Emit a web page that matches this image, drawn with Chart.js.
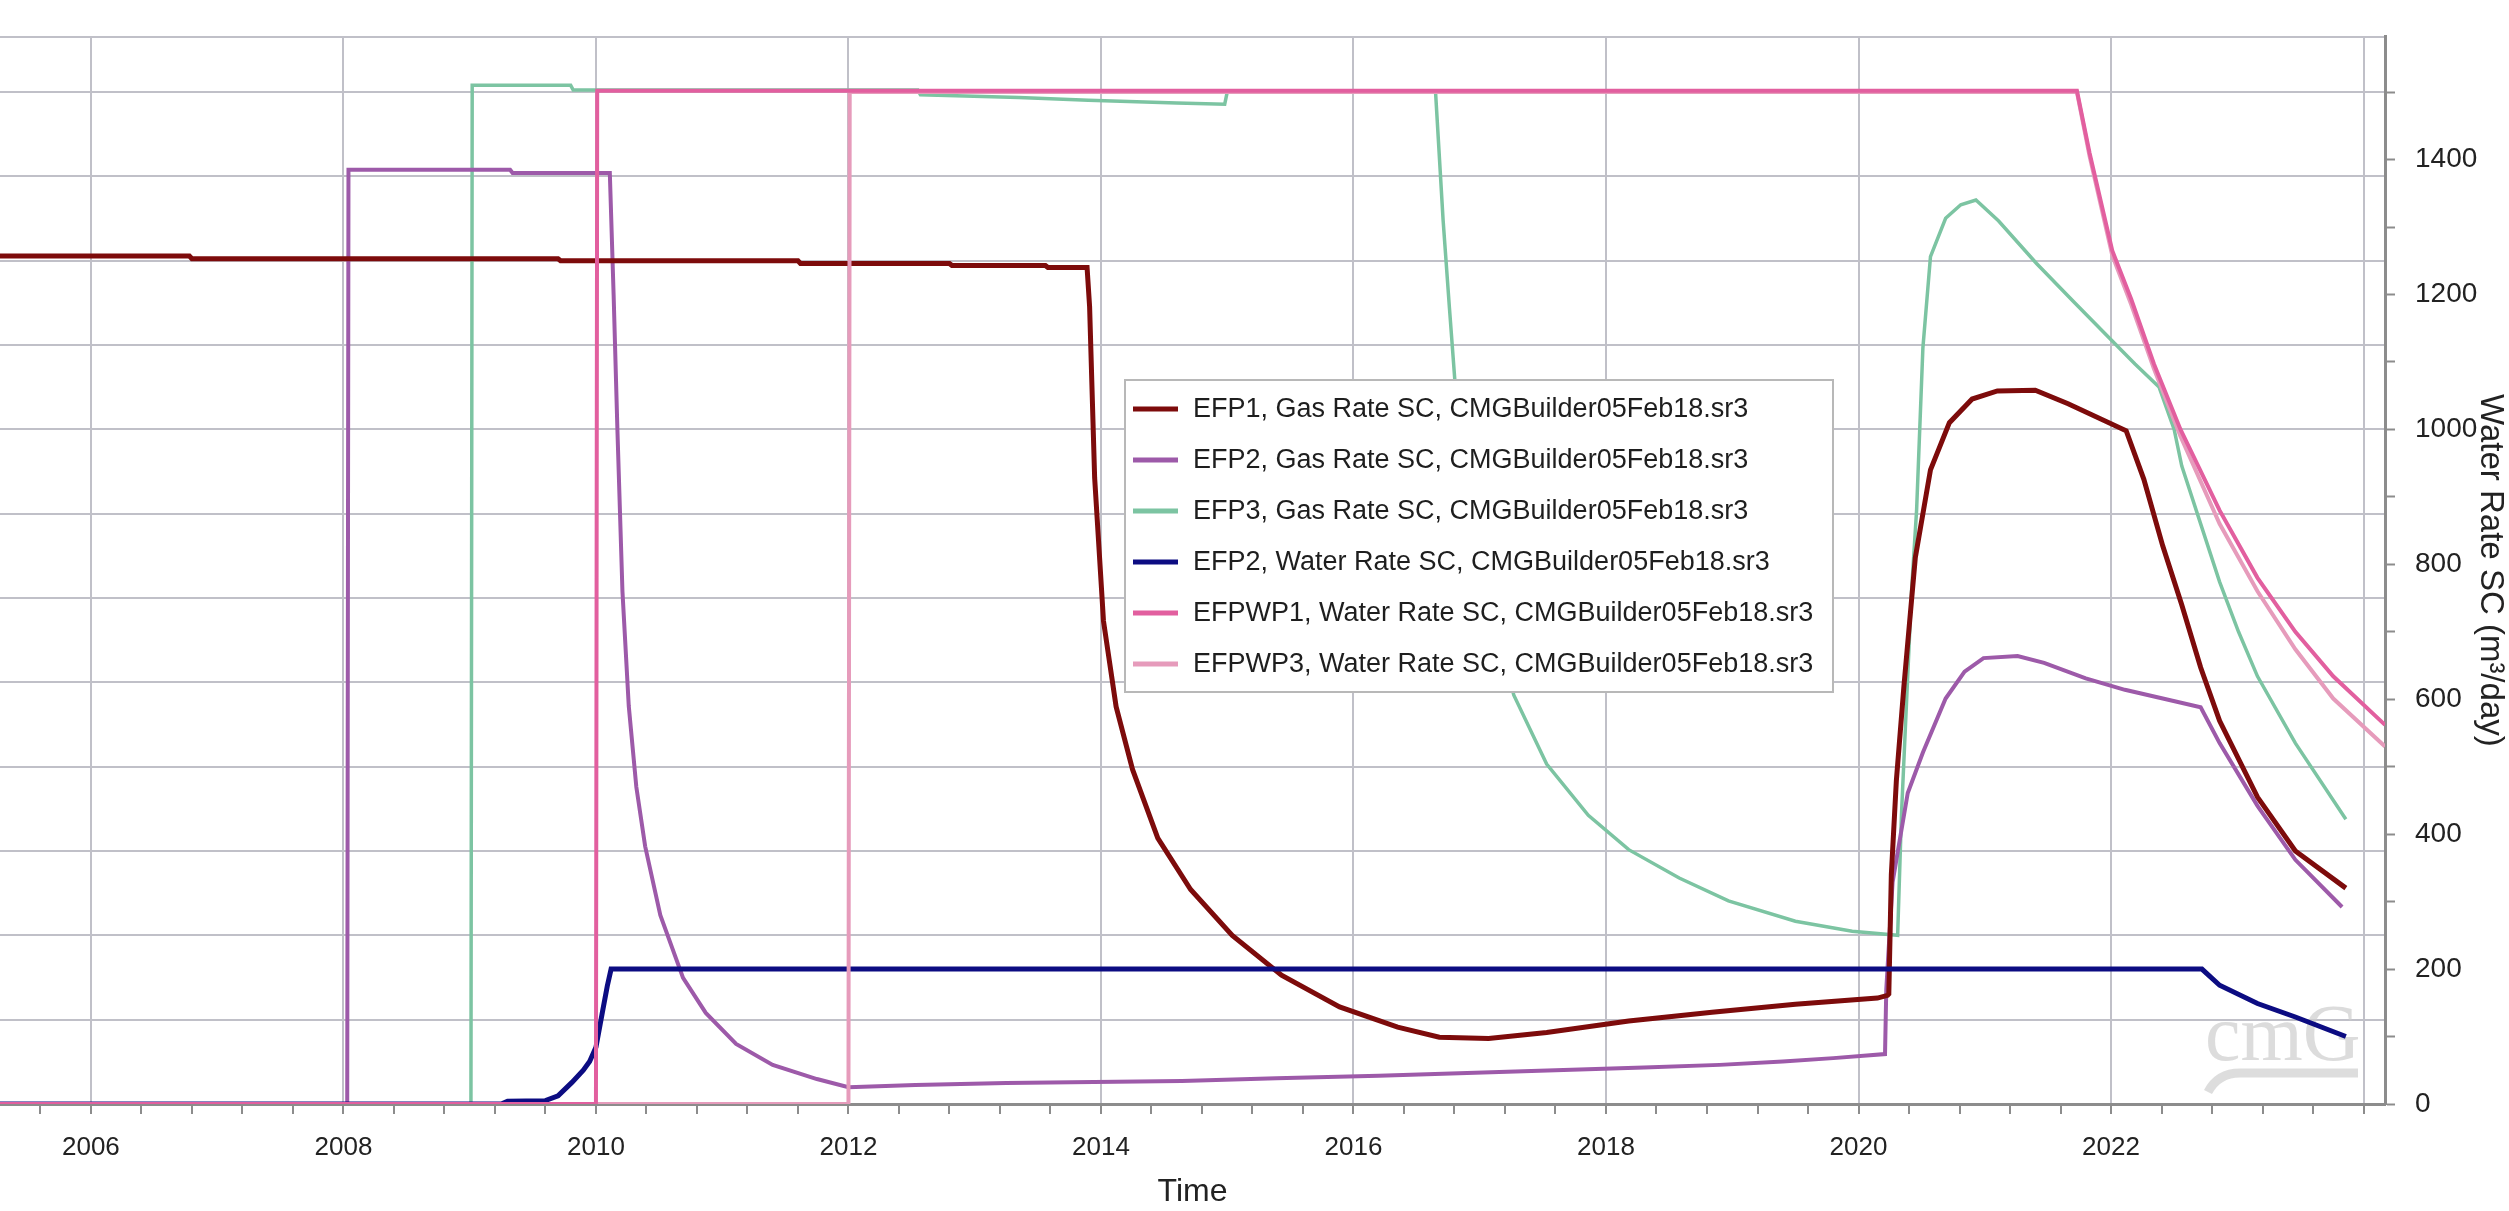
<!DOCTYPE html>
<html lang="en">
<head>
<meta charset="UTF-8" />
<title>Gas and Water Rates</title>
<style>
  html, body { margin: 0; padding: 0; background: #ffffff; }
  #wrap { width: 2509px; height: 1211px; }
</style>
<script src="https://cdn.jsdelivr.net/npm/chart.js"></script>
</head>
<body>
<div id="wrap"><canvas id="rateChart" width="2509" height="1211"></canvas></div>
<script>
  // axis range (decimal years / m3 per day)
  const xMin = 2005.28;
  const xMax = 2024.17;
  const yMax = 1582;

  // EFP1 gas rate
  const efp1Years = [2005.28, 2006.78, 2006.80, 2009.70, 2009.72, 2011.60, 2011.62, 2012.80, 2012.82, 2013.56, 2013.58, 2013.89,
    2013.91, 2013.95, 2014.02, 2014.12, 2014.25, 2014.45, 2014.71, 2015.04, 2015.43, 2015.89, 2016.35, 2016.68, 2017.07,
    2017.53, 2018.18, 2018.84, 2019.50, 2020.15, 2020.23, 2020.24, 2020.26, 2020.30, 2020.36, 2020.45, 2020.57, 2020.72,
    2020.90, 2021.10, 2021.40, 2021.66, 2022.12, 2022.26, 2022.41, 2022.56, 2022.71, 2022.86, 2023.16, 2023.46, 2023.86];
  const efp1Gas = [1257, 1257, 1253, 1253, 1250, 1250, 1246, 1246, 1243, 1243, 1240, 1240,
    1182, 928, 716, 589, 496, 394, 318, 250, 191, 144, 114, 99, 97,
    106, 123, 136, 148, 157, 161, 163, 340, 480, 620, 810, 940, 1010,
    1045, 1057, 1058, 1038, 998, 926, 827, 740, 647, 568, 455, 375, 320];

  // EFP2 gas rate
  const efp2Years = [2005.28, 2008.03, 2008.04, 2009.32, 2009.34, 2010.11, 2010.14, 2010.17, 2010.21, 2010.26, 2010.32,
    2010.39, 2010.51, 2010.69, 2010.87, 2011.11, 2011.40, 2011.75, 2012.00, 2012.53, 2013.25, 2014.64, 2015.39, 2016.20,
    2016.90, 2017.60, 2018.30, 2018.90, 2019.40, 2019.80, 2020.21, 2020.22, 2020.27, 2020.39, 2020.51, 2020.69, 2020.84,
    2020.99, 2021.26, 2021.47, 2021.80, 2022.11, 2022.41, 2022.71, 2022.86, 2023.16, 2023.46, 2023.83];
  const efp2Gas = [0, 0, 1385, 1385, 1380, 1380, 1200, 1000, 760, 590, 470,
    382, 280, 187, 135, 89, 58, 37, 25, 28, 31, 34, 38, 42,
    46, 50, 54, 58, 63, 68, 74, 170, 329, 461, 521, 601, 641,
    661, 664, 654, 631, 614, 601, 588, 535, 442, 362, 292];

  // EFP3 gas rate
  const efp3Years = [2005.28, 2009.01, 2009.02, 2009.80, 2009.82, 2012.55, 2012.57, 2013.35, 2013.90, 2014.60, 2014.98,
    2015.00, 2016.65, 2016.71, 2016.76, 2016.81, 2016.92, 2017.05, 2017.27, 2017.53, 2017.86, 2018.18, 2018.58, 2018.97,
    2019.50, 2019.95, 2020.31, 2020.34, 2020.42, 2020.46, 2020.51, 2020.57, 2020.69, 2020.81, 2020.93, 2021.11, 2021.41,
    2021.71, 2022.01, 2022.19, 2022.38, 2022.50, 2022.56, 2022.71, 2022.86, 2023.01, 2023.16, 2023.46, 2023.86];
  const efp3Gas = [0, 0, 1510, 1510, 1503, 1503, 1496, 1492, 1488, 1484, 1482,
    1500, 1500, 1310, 1180, 1055, 900, 760, 606, 504, 428, 377, 335, 301,
    271, 256, 250, 428, 760, 880, 1121, 1256, 1313, 1333, 1340, 1309, 1246,
    1188, 1131, 1097, 1063, 1000, 946, 860, 774, 700, 634, 535, 422];

  // EFP2 water rate
  const efp2WaterYears = [2005.28, 2009.25, 2009.30, 2009.60, 2009.70, 2009.81, 2009.90, 2009.95, 2010.00, 2010.05, 2010.09,
    2010.12, 2022.72, 2022.86, 2023.16, 2023.46, 2023.86];
  const efp2Water = [0, 0, 4, 5, 12, 32, 50, 63, 84, 135, 175,
    200, 200, 176, 149, 129, 100];

  // EFPWP1 water rate
  const wp1Years = [2005.28, 2010.00, 2010.01, 2021.73, 2021.83, 2022.01, 2022.16, 2022.34, 2022.55, 2022.86, 2023.16,
    2023.46, 2023.76, 2024.17];
  const wp1Water = [0, 0, 1502, 1502, 1410, 1265, 1193, 1097, 1000, 880, 780,
    700, 634, 562];

  // EFPWP3 water rate
  const wp3Years = [2005.28, 2012.00, 2012.01, 2021.73, 2021.83, 2022.01, 2022.16, 2022.34, 2022.55, 2022.86, 2023.16,
    2023.46, 2023.76, 2024.17];
  const wp3Water = [0, 0, 1500, 1500, 1405, 1258, 1185, 1090, 990, 860, 760,
    674, 601, 530];

  const gridColor = '#c0c0c8';
  const axisColor = '#8c8c8c';
  const fontFamily = '"Liberation Sans", Arial, sans-serif';

  function toPoints(xs, ys) {
    return xs.map((x, i) => ({ x: x, y: ys[i] }));
  }

  function isEvenYear(v) {
    const r = Math.round(v);
    return Math.abs(v - r) < 1e-6 && r % 2 === 0;
  }

  function series(label, xs, ys, color, width, order) {
    return {
      label: label,
      data: toPoints(xs, ys),
      borderColor: color,
      backgroundColor: color,
      borderWidth: width,
      pointRadius: 0,
      tension: 0,
      fill: false,
      order: order
    };
  }

  // legend drawn as a boxed list inside the plot
  const boxLegend = {
    id: 'boxLegend',
    afterDatasetsDraw(chart) {
      const ctx = chart.ctx;
      const bx = 1125, by = 380, bw = 708, bh = 312;
      ctx.save();
      ctx.fillStyle = '#ffffff';
      ctx.fillRect(bx, by, bw, bh);
      ctx.strokeStyle = '#b8b8b8';
      ctx.lineWidth = 2;
      ctx.strokeRect(bx, by, bw, bh);
      ctx.font = '27px ' + fontFamily;
      ctx.textBaseline = 'middle';
      chart.data.datasets.forEach((ds, i) => {
        const y = 409 + i * 51;
        ctx.strokeStyle = ds.borderColor;
        ctx.lineWidth = 5;
        ctx.beginPath();
        ctx.moveTo(1133, y);
        ctx.lineTo(1178, y);
        ctx.stroke();
        ctx.fillStyle = '#1e1e1e';
        ctx.fillText(ds.label, 1193, y + 1);
      });
      ctx.restore();
    }
  };

  // faint CMG watermark in the lower right corner
  const watermark = {
    id: 'watermark',
    beforeDatasetsDraw(chart) {
      const ctx = chart.ctx;
      ctx.save();
      ctx.fillStyle = 'rgba(205,205,205,0.7)';
      ctx.font = '80px "Liberation Serif", serif';
      ctx.textBaseline = 'alphabetic';
      ctx.fillText('cmG', 2205, 1060);
      ctx.strokeStyle = 'rgba(210,210,210,0.75)';
      ctx.lineWidth = 9;
      ctx.beginPath();
      ctx.moveTo(2208, 1092);
      ctx.quadraticCurveTo(2218, 1073, 2240, 1073);
      ctx.lineTo(2358, 1073);
      ctx.stroke();
      ctx.restore();
    }
  };

  new Chart(document.getElementById('rateChart'), {
    type: 'line',
    data: {
      datasets: [
        series('EFP1, Gas Rate SC, CMGBuilder05Feb18.sr3', efp1Years, efp1Gas, '#7d0b0b', 5, 2),
        series('EFP2, Gas Rate SC, CMGBuilder05Feb18.sr3', efp2Years, efp2Gas, '#9d5aa9', 4, 3),
        series('EFP3, Gas Rate SC, CMGBuilder05Feb18.sr3', efp3Years, efp3Gas, '#7cc4a2', 3.5, 4),
        series('EFP2, Water Rate SC, CMGBuilder05Feb18.sr3', efp2WaterYears, efp2Water, '#0c0c82', 5, 1),
        series('EFPWP1, Water Rate SC, CMGBuilder05Feb18.sr3', wp1Years, wp1Water, '#e25f9f', 4, 0),
        series('EFPWP3, Water Rate SC, CMGBuilder05Feb18.sr3', wp3Years, wp3Water, '#e69bbb', 4, 0)
      ]
    },
    options: {
      responsive: false,
      animation: false,
      devicePixelRatio: 1,
      layout: { padding: { top: 13, left: 0, right: 0, bottom: 0 } },
      plugins: {
        legend: { display: false },
        tooltip: { enabled: false }
      },
      scales: {
        x: {
          type: 'linear',
          position: 'bottom',
          min: xMin,
          max: xMax,
          afterFit: s => { s.height = 107; },
          ticks: {
            stepSize: 0.4,
            autoSkip: false,
            includeBounds: false,
            maxRotation: 0,
            padding: 18,
            color: '#222222',
            font: { size: 26, family: fontFamily },
            callback: v => (isEvenYear(v) && Math.round(v) < 2024) ? String(Math.round(v)) : ''
          },
          grid: {
            color: c => (c.tick && isEvenYear(c.tick.value)) ? gridColor : 'rgba(0,0,0,0)',
            lineWidth: 2,
            tickColor: axisColor,
            tickLength: 10,
            tickWidth: 2
          },
          border: { display: true, color: axisColor, width: 3 },
          title: {
            display: true,
            text: 'Time',
            color: '#222222',
            font: { size: 32, family: fontFamily, lineHeight: 1 },
            padding: { top: 0, bottom: 3 }
          }
        },
        yGrid: {
          type: 'linear',
          position: 'left',
          min: 0,
          max: yMax,
          afterFit: s => { s.width = 0; },
          ticks: { display: false, stepSize: 125, autoSkip: false },
          grid: { color: gridColor, lineWidth: 2, drawTicks: false },
          border: { display: false }
        },
        y: {
          type: 'linear',
          position: 'right',
          min: 0,
          max: yMax,
          afterFit: s => { s.width = 124; },
          ticks: {
            stepSize: 100,
            autoSkip: false,
            includeBounds: false,
            padding: 20,
            color: '#222222',
            font: { size: 28, family: fontFamily },
            callback: v => (v % 200 === 0) ? String(v) : ''
          },
          grid: {
            drawOnChartArea: false,
            tickColor: axisColor,
            tickLength: 10,
            tickWidth: 2
          },
          border: { display: true, color: axisColor, width: 3 },
          title: {
            display: true,
            text: 'Water Rate SC (m³/day)',
            color: '#222222',
            font: { size: 33, family: fontFamily, lineHeight: 1 },
            padding: { top: 2, bottom: 0 }
          }
        }
      }
    },
    plugins: [watermark, boxLegend]
  });
</script>
</body>
</html>
